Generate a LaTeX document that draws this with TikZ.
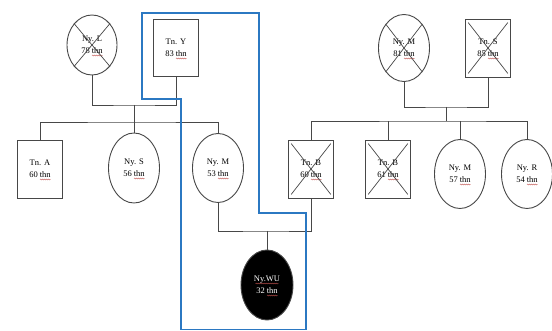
\documentclass[tikz,border=0pt]{standalone}
\usepackage{fontspec}
\setmainfont{Liberation Serif}
\usepackage{tikz}
\usetikzlibrary{positioning,calc,shapes.geometric,decorations.pathmorphing}
\usepackage{xcolor}
\definecolor{famblue}{HTML}{2B78C2}
\definecolor{famgray}{HTML}{474747}
\definecolor{famred}{HTML}{C0504D}

\begin{document}
\begin{tikzpicture}[x=1pt, y=-1pt, font=\fontsize{8.5}{12}\selectfont]
  \tikzstyle{male}=[rectangle,draw=famgray,line width=0.9pt,minimum width=45pt,minimum height=58pt,inner sep=0pt,align=center]
  \tikzstyle{female}=[ellipse,draw=famgray,line width=0.9pt,minimum width=51pt,minimum height=69pt,inner sep=0pt,align=center]
  \tikzstyle{link}=[draw=famgray,line width=0.9pt]
  \tikzstyle{cross}=[draw=famgray,line width=0.7pt]
  \tikzstyle{bound}=[draw=famblue,line width=1.8pt]
  \tikzstyle{wave}=[draw=famred,line width=0.4pt,decorate,decoration={snake,segment length=2pt,amplitude=0.5pt}]
  \useasboundingbox[fill=white] (0,0) rectangle (552,331);
  % grandparents
  \node[female,minimum height=60pt,minimum width=50pt] (nyL) at (92,45) {Ny. L\\78 thn};
  \node[male,minimum height=57pt] (tnY) at (176,48) {Tn. Y\\83 thn};
  \node[female,minimum height=67pt] (nyM81) at (404,48) {Ny. M\\81 thn};
  \node[male] (tnS) at (488,48) {Tn. S\\85 thn};
  % children
  \node[male] (tnA) at (40,169) {Tn. A\\60 thn};
  \node[female,minimum height=70pt] (nyS) at (134,168) {Ny. S\\56 thn};
  \node[female] (nyM53) at (218,168) {Ny. M\\53 thn};
  \node[male] (tnB60) at (311,169) {Tn. B\\60 thn};
  \node[male] (tnB61) at (388,169) {Tn. B\\61 thn};
  \node[female] (nyM57) at (460,174) {Ny. M\\57 thn};
  \node[female] (nyR) at (527,174) {Ny. R\\54 thn};
  % index person
  \node[female,fill=black,text=white,minimum width=52pt,minimum height=70pt] (nyWU) at (267,285) {Ny.WU\\32 thn};
  % spelling marks
  \foreach \p in {nyL,tnY,nyM81,tnS,tnA,nyS,nyM53,tnB60,tnB61,nyM57,nyR,nyWU}
    \draw[wave] ([shift={(0,10.5)}]\p.center) -- ++(10.5,0);
  \draw[wave] ([shift={(-11.5,-1.5)}]nyWU.center) -- ++(23,0);
  % deceased
  \foreach \p in {nyL,nyM81} {
    \draw[cross] (\p.north west) -- (\p.south east);
    \draw[cross] (\p.north east) -- (\p.south west);
  }
  \foreach \p in {tnS,tnB60,tnB61} {
    \draw[cross] ($(\p.north west)!0.07!(\p.south east)$) -- ($(\p.south east)!0.07!(\p.north west)$);
    \draw[cross] ($(\p.north east)!0.07!(\p.south west)$) -- ($(\p.south west)!0.07!(\p.north east)$);
  }
  \coordinate (cL) at (134,105);
  \coordinate (sL) at (134,122);
  \coordinate (cR) at (446,107);
  \coordinate (sR) at (446,121);
  \coordinate (cM) at (267,231);
  \draw[link] (nyL.south) |- (cL) -| (tnY.south);
  \draw[link] (cL) -- (sL);
  \draw[link] (tnA.north) |- (sL) -| (nyM53.north);
  \draw[link] (nyS.north) -- (sL);
  \draw[link] (nyM81.south) |- (cR) -| (tnS.south);
  \draw[link] (cR) -- (sR);
  \draw[link] (tnB60.north) |- (sR) -| (nyR.north);
  \draw[link] (tnB61.north) -- (tnB61.north |- sR);
  \draw[link] (nyM57.north) -- (nyM57.north |- sR);
  \draw[link] (nyM53.south) |- (cM) -| (tnB60.south);
  \draw[link] (cM) -- (nyWU.north);
  % household
  \draw[bound] (142,13) -- (259,13) -- (259,213) -- (306,213) -- (306,329.5) -- (181,329.5) -- (181,99) -- (142,99) -- cycle;
\end{tikzpicture}
\end{document}
